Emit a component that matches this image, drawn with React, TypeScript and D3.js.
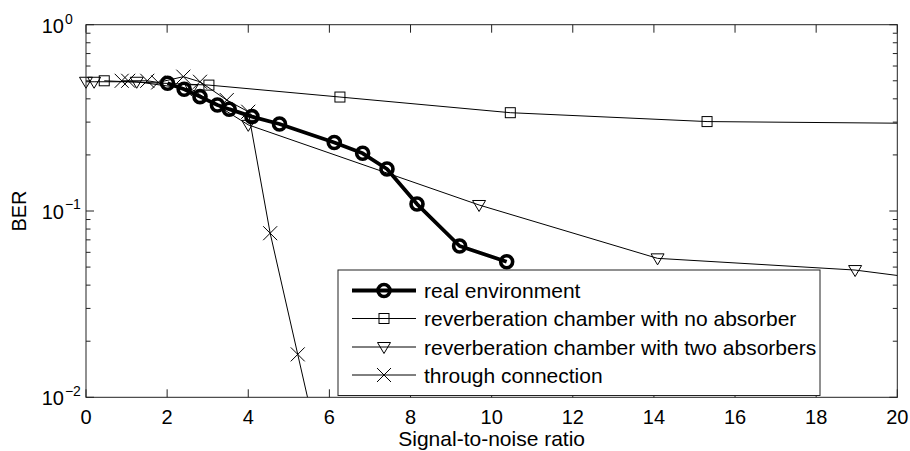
import React from "react";
import * as d3 from "d3";

const xTicks = [0, 2, 4, 6, 8, 10, 12, 14, 16, 18, 20];
const yDecades = [-2, -1, 0];

const realX = [2.01, 2.42, 2.81, 3.24, 3.53, 4.09, 4.77, 6.12, 6.82, 7.42, 8.16, 9.21, 10.37];
const realY = [0.485, 0.45, 0.411, 0.371, 0.352, 0.321, 0.293, 0.233, 0.204, 0.168, 0.109, 0.0649, 0.0534];

const noAbsX = [0.45, 3.03, 6.26, 10.46, 15.31, 20.8];
const noAbsY = [0.5, 0.474, 0.409, 0.337, 0.302, 0.295];

const twoAbsX = [0, 0.2, 1.25, 2.6, 4.0, 9.69, 14.09, 18.96, 23.5];
const twoAbsY = [0.494, 0.494, 0.494, 0.45, 0.29, 0.1077, 0.0557, 0.0482, 0.036];

const throughX = [0.88, 1.04, 1.51, 1.78, 2.4, 2.81, 3.47, 4.0, 4.54, 5.22, 5.9];
const throughY = [0.5, 0.5, 0.5, 0.49, 0.526, 0.494, 0.394, 0.341, 0.076, 0.017, 0.0038];

const legendLabels = [
  "real environment",
  "reverberation chamber with no absorber",
  "reverberation chamber with two absorbers",
  "through connection",
];

const W = 910, H = 451;
const L = 86, R = 897.3, T = 24.7, B = 397.3;
const FONT = "'Liberation Sans', Arial, Helvetica, sans-serif";

type MarkerKind = "circle" | "square" | "tri" | "cross";

function Marker({ kind, cx, cy }: { kind: MarkerKind; cx: number; cy: number }) {
  if (kind === "circle")
    return <circle cx={cx} cy={cy} r={6} fill="none" stroke="#000" strokeWidth={3.6} />;
  if (kind === "square")
    return <rect x={cx - 5} y={cy - 5} width={10} height={10} fill="none" stroke="#000" strokeWidth={1} />;
  if (kind === "tri")
    return (
      <path
        d={`M${cx - 6.5},${cy - 4.5}L${cx + 6.5},${cy - 4.5}L${cx},${cy + 6.5}Z`}
        fill="none"
        stroke="#000"
        strokeWidth={1}
      />
    );
  return (
    <path
      d={`M${cx - 7},${cy - 7}L${cx + 7},${cy + 7}M${cx - 7},${cy + 7}L${cx + 7},${cy - 7}`}
      stroke="#000"
      strokeWidth={1}
    />
  );
}

export default function App() {
  const x = d3.scaleLinear().domain([0, 20]).range([L, R]);
  const y = d3.scaleLog().domain([0.01, 1]).range([B, T]);

  const series: { xs: number[]; ys: number[]; kind: MarkerKind; width: number }[] = [
    { xs: realX, ys: realY, kind: "circle", width: 3.8 },
    { xs: noAbsX, ys: noAbsY, kind: "square", width: 1 },
    { xs: twoAbsX, ys: twoAbsY, kind: "tri", width: 1 },
    { xs: throughX, ys: throughY, kind: "cross", width: 1 },
  ];

  const line = d3
    .line<[number, number]>()
    .x((d) => x(d[0]))
    .y((d) => y(d[1]));

  const minorTicks: number[] = [];
  for (const e of [-2, -1]) for (let k = 2; k <= 9; k++) minorTicks.push(k * Math.pow(10, e));

  const legX = 338, legY = 270, legW = 482, legH = 125.5;
  const rowY = [290.5, 318.5, 347, 375];

  return (
    <svg
      width={W}
      height={H}
      style={{ position: "absolute", left: 0, top: 0, background: "#fff" }}
      fontFamily={FONT}
    >
      <rect x={0} y={0} width={W} height={H} fill="#fff" />
      <defs>
        <clipPath id="plotClip">
          <rect x={L} y={T} width={R - L} height={B - T} />
        </clipPath>
      </defs>

      {/* ticks */}
      <g stroke="#222" strokeWidth={1}>
        {xTicks.map((t) => (
          <g key={"xt" + t}>
            <line x1={x(t)} x2={x(t)} y1={B} y2={B - 8} />
            <line x1={x(t)} x2={x(t)} y1={T} y2={T + 8} />
          </g>
        ))}
        {yDecades.map((e) => (
          <g key={"yt" + e}>
            <line x1={L} x2={L + 8} y1={y(Math.pow(10, e))} y2={y(Math.pow(10, e))} />
            <line x1={R} x2={R - 8} y1={y(Math.pow(10, e))} y2={y(Math.pow(10, e))} />
          </g>
        ))}
        {minorTicks.map((t, i) => (
          <g key={"mt" + i}>
            <line x1={L} x2={L + 4.5} y1={y(t)} y2={y(t)} />
            <line x1={R} x2={R - 4.5} y1={y(t)} y2={y(t)} />
          </g>
        ))}
      </g>

      {/* series */}
      {series.map((s, si) => {
        const pts = s.xs.map((v, i) => [v, s.ys[i]] as [number, number]);
        return (
          <g key={"s" + si}>
            <path
              d={line(pts) || ""}
              fill="none"
              stroke="#000"
              strokeWidth={s.width}
              strokeLinejoin="round"
              clipPath="url(#plotClip)"
            />
            {pts
              .filter((p) => p[0] >= 0 && p[0] <= 20 && p[1] >= 0.01 && p[1] <= 1)
              .map((p, i) => (
                <Marker key={i} kind={s.kind} cx={x(p[0])} cy={y(p[1])} />
              ))}
          </g>
        );
      })}

      {/* axes box */}
      <rect x={L} y={T} width={R - L} height={B - T} fill="none" stroke="#222" strokeWidth={1} />

      {/* x tick labels */}
      {xTicks.map((t) => (
        <text key={"xl" + t} x={x(t)} y={424} textAnchor="middle" fontSize={20} fill="#000">
          {t}
        </text>
      ))}

      {/* y tick labels */}
      {yDecades.map((e) => {
        const yy = y(Math.pow(10, e)) + (e === 0 ? 8.6 : 7.7);
        return (
          <text key={"yl" + e} x={41.7} y={yy} fontSize={20} fill="#000">
            10
            <tspan dy={-9.5} dx={1} fontSize={14}>
              {e === 0 ? "0" : "\u2212" + Math.abs(e)}
            </tspan>
          </text>
        );
      })}

      {/* axis labels */}
      <text x={(L + R) / 2} y={446} textAnchor="middle" fontSize={21} fill="#000">
        Signal-to-noise ratio
      </text>
      <text
        transform={`translate(26,${(T + B) / 2}) rotate(-90)`}
        textAnchor="middle"
        fontSize={20}
        fill="#000"
      >
        BER
      </text>

      {/* legend */}
      <rect x={legX} y={legY} width={legW} height={legH} fill="#fff" stroke="#222" strokeWidth={1} />
      {series.map((s, i) => (
        <g key={"lg" + i}>
          <line x1={352} x2={416} y1={rowY[i]} y2={rowY[i]} stroke="#000" strokeWidth={s.width} />
          <Marker kind={s.kind} cx={384} cy={rowY[i]} />
          <text x={424} y={rowY[i] + 7.5} fontSize={21} fill="#000">
            {legendLabels[i]}
          </text>
        </g>
      ))}
    </svg>
  );
}
